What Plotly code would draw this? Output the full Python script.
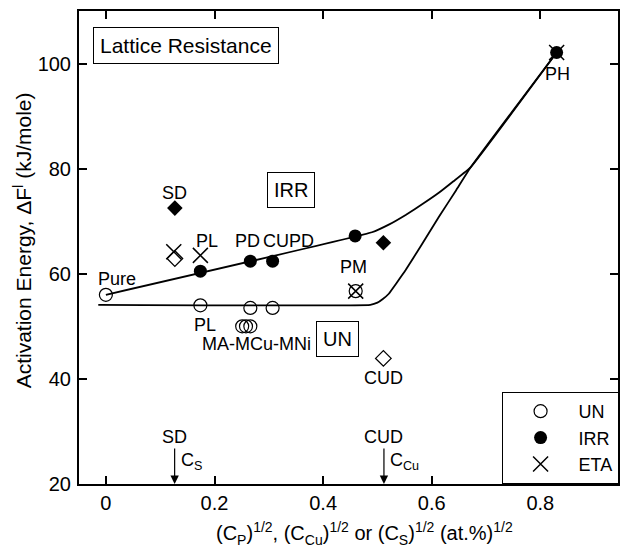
import plotly.graph_objects as go

# Measured points: square root of solute concentration vs. activation energy
un_x = [0.0, 0.174, 0.266, 0.307, 0.251, 0.258, 0.266, 0.460]
un_y = [56.0, 54.0, 53.5, 53.5, 50.0, 50.0, 50.0, 56.7]

irr_x = [0.174, 0.266, 0.307, 0.459, 0.830]
irr_y = [60.5, 62.4, 62.4, 67.2, 102.1]

eta_x = [0.125, 0.174, 0.460, 0.830]
eta_y = [64.2, 63.5, 56.7, 102.1]

# Diamonds (S and Cu doped materials)
dia_fill_x = [0.127, 0.511]
dia_fill_y = [72.5, 65.9]
dia_open_x = [0.127, 0.511]
dia_open_y = [62.9, 43.9]

# Guide curves: irradiated (upper) and unirradiated (lower) trends
upper_x = [0.0, 0.490, 0.520, 0.552, 0.585, 0.613, 0.640, 0.672, 0.830]
upper_y = [56.0, 67.9, 69.3, 71.2, 73.4, 75.4, 77.6, 80.3, 102.1]
lower_x = [-0.014, 0.487, 0.500, 0.510, 0.521, 0.535, 0.552, 0.580, 0.613, 0.645, 0.672, 0.830]
lower_y = [54.1, 54.1, 54.5, 55.2, 56.2, 58.2, 60.7, 65.3, 70.8, 75.9, 80.3, 102.1]

# Point labels
lab_text = ["Pure", "SD", "PL", "PD", "CUPD", "PL", "MA-MCu-MNi", "PM", "CUD", "PH"]
lab_x = [0.020, 0.127, 0.186, 0.261, 0.336, 0.183, 0.277, 0.456, 0.511, 0.832]
lab_y = [59.1, 75.4, 66.2, 66.2, 66.2, 50.2, 46.6, 61.3, 40.1, 98.1]

x_ticks = [0, 0.2, 0.4, 0.6, 0.8]
x_tick_text = ["0", "0.2", "0.4", "0.6", "0.8"]
y_ticks = [20, 40, 60, 80, 100]

FONT = "Liberation Sans, Arial, sans-serif"

fig = go.Figure()

for cx, cy in [(upper_x, upper_y), (lower_x, lower_y)]:
    fig.add_trace(go.Scatter(x=cx, y=cy, mode="lines",
                             line=dict(color="black", width=1.8, shape="spline", smoothing=0.3),
                             showlegend=False, hoverinfo="skip"))

fig.add_trace(go.Scatter(x=dia_fill_x, y=dia_fill_y, mode="markers",
                         marker=dict(symbol="diamond", size=12, color="black"),
                         showlegend=False))
fig.add_trace(go.Scatter(x=dia_open_x, y=dia_open_y, mode="markers",
                         marker=dict(symbol="diamond-open", size=12, color="black",
                                     line=dict(width=1.3)),
                         showlegend=False))

fig.add_trace(go.Scatter(x=un_x, y=un_y, mode="markers", name="UN",
                         marker=dict(symbol="circle-open", size=13, color="black",
                                     line=dict(width=1.2))))
fig.add_trace(go.Scatter(x=irr_x, y=irr_y, mode="markers", name="IRR",
                         marker=dict(symbol="circle", size=13, color="black")))
fig.add_trace(go.Scatter(x=eta_x, y=eta_y, mode="markers", name="ETA",
                         marker=dict(symbol="x-thin-open", size=15, color="black",
                                     line=dict(width=1.5, color="black"))))

annotations = []
for t, x, y in zip(lab_text, lab_x, lab_y):
    annotations.append(dict(x=x, y=y, text=t, showarrow=False,
                            font=dict(family=FONT, size=18, color="black")))

# Boxed region labels
annotations.append(dict(x=0.341, y=75.9, text="IRR", showarrow=False, bordercolor="black",
                        borderwidth=1, borderpad=6, font=dict(family=FONT, size=20, color="black")))
annotations.append(dict(x=0.427, y=47.5, text="UN", showarrow=False, bordercolor="black",
                        borderwidth=1, borderpad=6, font=dict(family=FONT, size=20, color="black")))
annotations.append(dict(x=-0.024, y=103.5, text="Lattice Resistance", showarrow=False,
                        xanchor="left", yanchor="middle", bordercolor="black", borderwidth=1,
                        borderpad=6, font=dict(family=FONT, size=21, color="black")))

# Concentration markers on the x axis
for name, xv, sub in [("SD", 0.1266, "C<sub>S</sub>"), ("CUD", 0.512, "C<sub>Cu</sub>")]:
    annotations.append(dict(x=xv, y=20, ax=0, ay=-47, text=name, showarrow=True,
                            arrowhead=2, arrowsize=1.4, arrowwidth=1.2, arrowcolor="black",
                            font=dict(family=FONT, size=18, color="black")))
    annotations.append(dict(x=xv, y=24.2, text=sub, showarrow=False, xanchor="left",
                            xshift=4, font=dict(family=FONT, size=18, color="black")))

# Axis titles
annotations.append(dict(xref="paper", yref="paper", x=-0.104, y=0.515,
                        xanchor="center", yanchor="middle",
                        text="Activation Energy, \u0394F<sup>l</sup> (kJ/mole)",
                        textangle=-90, showarrow=False,
                        font=dict(family=FONT, size=21, color="black")))
annotations.append(dict(xref="paper", yref="paper", x=0.529, y=-0.105,
                        xanchor="center", yanchor="middle",
                        text="(C<sub>P</sub>)<sup>1/2</sup>, (C<sub>Cu</sub>)<sup>1/2</sup> or "
                             "(C<sub>S</sub>)<sup>1/2</sup> (at.%)<sup>1/2</sup>",
                        showarrow=False, font=dict(family=FONT, size=20, color="black")))

fig.update_layout(
    width=621, height=550,
    margin=dict(l=79, r=1, t=11, b=66),
    paper_bgcolor="white", plot_bgcolor="white",
    font=dict(family=FONT, color="black"),
    annotations=annotations,
    showlegend=True,
    legend=dict(x=0.784, y=0.1945, xanchor="left", yanchor="top",
                bordercolor="black", borderwidth=1, bgcolor="white",
                font=dict(family=FONT, size=18, color="black"),
                itemwidth=66, tracegroupgap=0),
)
fig.update_xaxes(range=[-0.0495, 0.943], tickvals=x_ticks, ticktext=x_tick_text,
                 ticks="inside", ticklen=8, tickwidth=1.5, tickcolor="black",
                 showline=True, linecolor="black", linewidth=2, mirror="ticks",
                 showgrid=False, zeroline=False,
                 tickfont=dict(family=FONT, size=20, color="black"))
fig.update_yaxes(range=[20, 110], tickvals=y_ticks,
                 ticks="inside", ticklen=8, tickwidth=1.5, tickcolor="black",
                 showline=True, linecolor="black", linewidth=2, mirror="ticks",
                 showgrid=False, zeroline=False, ticklabelstandoff=2,
                 tickfont=dict(family=FONT, size=20, color="black"))

fig.write_html("out.html")
